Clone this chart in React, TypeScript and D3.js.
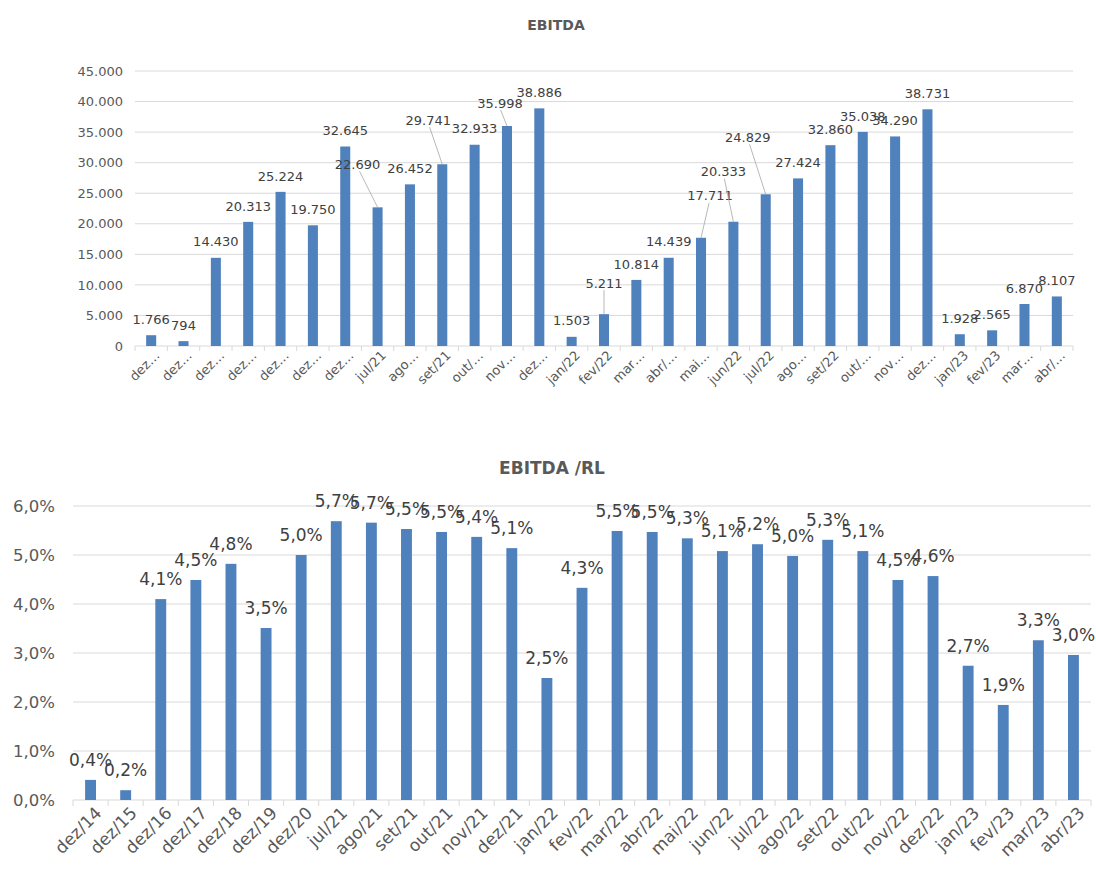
import React, { useEffect, useRef } from 'react'
import * as d3 from 'd3'

const categories = ['dez/14', 'dez/15', 'dez/16', 'dez/17', 'dez/18', 'dez/19', 'dez/20', 'jul/21', 'ago/21', 'set/21', 'out/21', 'nov/21', 'dez/21', 'jan/22', 'fev/22', 'mar/22', 'abr/22', 'mai/22', 'jun/22', 'jul/22', 'ago/22', 'set/22', 'out/22', 'nov/22', 'dez/22', 'jan/23', 'fev/23', 'mar/23', 'abr/23']

// excel cut the long ones in the upper chart
const topTickLabels = ['dez…', 'dez…', 'dez…', 'dez…', 'dez…', 'dez…', 'dez…', 'jul/21', 'ago…', 'set/21', 'out/…', 'nov…', 'dez…', 'jan/22', 'fev/22', 'mar…', 'abr/…', 'mai…', 'jun/22', 'jul/22', 'ago…', 'set/22', 'out/…', 'nov…', 'dez…', 'jan/23', 'fev/23', 'mar…', 'abr/…']

const ebitda = [1766, 794, 14430, 20313, 25224, 19750, 32645, 22690, 26452, 29741, 32933, 35998, 38886, 1503, 5211, 10814, 14439, 17711, 20333, 24829, 27424, 32860, 35038, 34290, 38731, 1928, 2565, 6870, 8107]

// EBITDA / RL in %
const ebitdaRl = [0.41, 0.2, 4.1, 4.49, 4.82, 3.51, 5.0, 5.69, 5.66, 5.53, 5.47, 5.37, 5.14, 2.49, 4.33, 5.49, 5.47, 5.34, 5.08, 5.22, 4.98, 5.31, 5.08, 4.49, 4.57, 2.74, 1.94, 3.26, 2.96]

const topTicks = [0, 5000, 10000, 15000, 20000, 25000, 30000, 35000, 40000, 45000]
const bottomTicks = [0, 1, 2, 3, 4, 5, 6]

// labels that excel pushed away from their bar (with a leader line)
const topLabelMoves = {
    7: [-20, -27],
    9: [-14, -28],
    11: [-7, -7],
    14: [0, -15],
    17: [9, -26],
    18: [-10, -34],
    19: [-18, -41],
}

const BLUE = '#4F81BD'
const GRID = '#D9D9D9'
const AXIS_TXT = '#595959'
const LABEL_TXT = '#404040'
const FONT = '"Century Gothic", "DejaVu Sans", sans-serif'

const locale = d3.formatLocale({ decimal: ',', thousands: '.', grouping: [3], currency: ['R$', ''] })
const fmtInt = locale.format(',.0f')
const fmtPct = (v) => locale.format('.1f')(v) + '%'

const App = () => {
    const ref = useRef(null)

    useEffect(() => {
        const svg = d3.select(ref.current)
        svg.selectAll('*').remove()
        svg.style('font-family', FONT)

        svg.append('rect').attr('width', 1096).attr('height', 869).attr('fill', '#fff')

        // ---------- EBITDA ----------
        const x1 = d3.scaleBand().domain(categories).range([135, 1073]).paddingInner(0.69).paddingOuter(0.345)
        const y1 = d3.scaleLinear().domain([0, 45000]).range([346, 71])

        const top = svg.append('g')

        top.append('text')
            .attr('x', 556).attr('y', 30)
            .attr('text-anchor', 'middle')
            .attr('font-size', 14).attr('font-weight', 'bold')
            .attr('fill', AXIS_TXT)
            .text('EBITDA')

        top.selectAll('.grid')
            .data(topTicks)
            .enter().append('line')
            .attr('x1', 135).attr('x2', 1073)
            .attr('y1', d => y1(d)).attr('y2', d => y1(d))
            .attr('stroke', GRID).attr('stroke-width', 1)

        top.selectAll('.ylab')
            .data(topTicks)
            .enter().append('text')
            .attr('x', 123).attr('y', d => y1(d))
            .attr('dy', '0.36em')
            .attr('text-anchor', 'end')
            .attr('font-size', 13)
            .attr('fill', AXIS_TXT)
            .text(d => fmtInt(d))

        const step1 = x1.step()
        top.selectAll('.tick')
            .data(d3.range(categories.length + 1))
            .enter().append('line')
            .attr('x1', i => 135 + i * step1).attr('x2', i => 135 + i * step1)
            .attr('y1', 346).attr('y2', 351)
            .attr('stroke', GRID)

        top.selectAll('.xlab')
            .data(categories)
            .enter().append('text')
            .attr('transform', d => 'translate(' + (x1(d) + x1.bandwidth() / 2 + 6) + ',353) rotate(-45)')
            .attr('dy', '0.35em')
            .attr('text-anchor', 'end')
            .attr('font-size', 13)
            .attr('fill', AXIS_TXT)
            .text((d, i) => topTickLabels[i])

        top.selectAll('.bar')
            .data(ebitda)
            .enter().append('rect')
            .attr('x', (d, i) => x1(categories[i]))
            .attr('y', d => y1(d))
            .attr('width', x1.bandwidth())
            .attr('height', d => 346 - y1(d))
            .attr('fill', BLUE)

        const topLabels = top.selectAll('.lbl')
            .data(ebitda)
            .enter().append('g')

        topLabels.each(function (d, i) {
            const g = d3.select(this)
            const cx = x1(categories[i]) + x1.bandwidth() / 2
            const move = topLabelMoves[i] || [0, 0]
            const lx = cx + move[0]
            const ly = y1(d) - 16 + move[1]
            if (topLabelMoves[i]) {
                g.append('line')
                    .attr('x1', lx + move[0] * -0.1).attr('y1', ly + 7)
                    .attr('x2', cx).attr('y2', y1(d))
                    .attr('stroke', '#A6A6A6').attr('stroke-width', 0.8)
            }
            g.append('text')
                .attr('x', lx).attr('y', ly)
                .attr('dy', '0.36em')
                .attr('text-anchor', 'middle')
                .attr('font-size', 13)
                .attr('fill', LABEL_TXT)
                .text(fmtInt(d))
        })

        // ---------- EBITDA / RL ----------
        const x2 = d3.scaleBand().domain(categories).range([73, 1091]).paddingInner(0.69).paddingOuter(0.345)
        const y2 = d3.scaleLinear().domain([0, 6]).range([800, 506])

        const bottom = svg.append('g')

        bottom.append('text')
            .attr('x', 552).attr('y', 474)
            .attr('text-anchor', 'middle')
            .attr('font-size', 17).attr('font-weight', 'bold')
            .attr('fill', AXIS_TXT)
            .text('EBITDA /RL')

        bottom.selectAll('.grid')
            .data(bottomTicks)
            .enter().append('line')
            .attr('x1', 73).attr('x2', 1091)
            .attr('y1', d => y2(d)).attr('y2', d => y2(d))
            .attr('stroke', GRID).attr('stroke-width', 1)

        bottom.selectAll('.ylab')
            .data(bottomTicks)
            .enter().append('text')
            .attr('x', 55).attr('y', d => y2(d))
            .attr('dy', '0.36em')
            .attr('text-anchor', 'end')
            .attr('font-size', 16.5)
            .attr('fill', AXIS_TXT)
            .text(d => fmtPct(d))

        const step2 = x2.step()
        bottom.selectAll('.tick')
            .data(d3.range(categories.length + 1))
            .enter().append('line')
            .attr('x1', i => 73 + i * step2).attr('x2', i => 73 + i * step2)
            .attr('y1', 800).attr('y2', 806)
            .attr('stroke', GRID)

        bottom.selectAll('.xlab')
            .data(categories)
            .enter().append('text')
            .attr('transform', d => 'translate(' + (x2(d) + x2.bandwidth() / 2 + 8) + ',810) rotate(-45)')
            .attr('dy', '0.35em')
            .attr('text-anchor', 'end')
            .attr('font-size', 17)
            .attr('fill', AXIS_TXT)
            .text(d => d)

        bottom.selectAll('.bar')
            .data(ebitdaRl)
            .enter().append('rect')
            .attr('x', (d, i) => x2(categories[i]))
            .attr('y', d => y2(d))
            .attr('width', x2.bandwidth())
            .attr('height', d => 800 - y2(d))
            .attr('fill', BLUE)

        bottom.selectAll('.lbl')
            .data(ebitdaRl)
            .enter().append('text')
            .attr('x', (d, i) => x2(categories[i]) + x2.bandwidth() / 2)
            .attr('y', d => y2(d) - 20)
            .attr('dy', '0.36em')
            .attr('text-anchor', 'middle')
            .attr('font-size', 17)
            .attr('fill', LABEL_TXT)
            .text(d => fmtPct(d))
    })

    return (
        <div style={{ position: 'absolute', left: 0, top: 0 }}>
            <svg ref={ref} width={1096} height={869}></svg>
        </div>
    )
}

export default App
